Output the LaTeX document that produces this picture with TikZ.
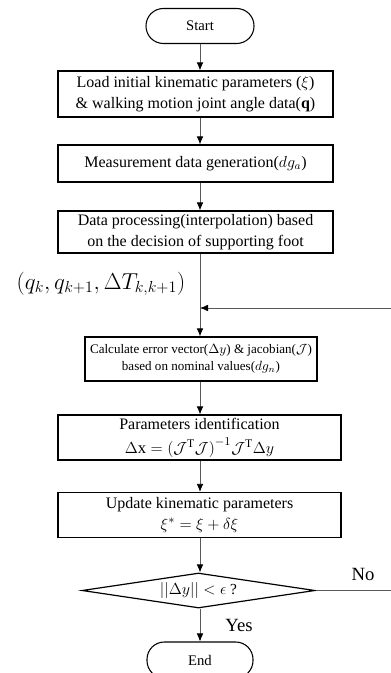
\documentclass[tikz,border=0pt]{standalone}
\usepackage{fontspec}
\setmainfont{Liberation Serif}
\usetikzlibrary{shapes.geometric,arrows.meta}
\begin{document}
\begin{tikzpicture}[x=0.75pt,y=-0.75pt,
  box/.style={draw=black,line width=0.9pt,rectangle,inner sep=0pt,align=center,
    font=\fontsize{12}{15.5}\selectfont},
  smallbox/.style={box,font=\fontsize{9.8}{13}\selectfont},
  term/.style={draw=black,line width=0.8pt,rectangle,rounded corners=13pt,inner sep=0pt,
    font=\fontsize{11}{13}\selectfont},
  decision/.style={draw=black,line width=0.9pt,diamond,aspect=6.66,inner sep=0pt,
    font=\fontsize{11.5}{13}\selectfont},
  conn/.style={draw=black!65,line width=0.6pt,-{Latex[length=6pt,width=5pt,color=black]}},
  biglabel/.style={font=\fontsize{14}{16}\selectfont,inner sep=0pt}]
\useasboundingbox (0,0) rectangle (390,673);

\node[term,minimum width=81pt,minimum height=26.25pt] (start) at (200,26) {Start};
\node[box,minimum width=206.25pt,minimum height=34.5pt] (b1) at (195.5,94)
  {Load initial kinematic parameters ($\xi$)\\ \& walking motion joint angle data($\mathbf{q}$)};
\node[box,minimum width=206.25pt,minimum height=27.75pt] (b2) at (195.5,163.5)
  {Measurement data generation($dg_a$)};
\node[box,minimum width=206.25pt,minimum height=31.5pt] (b3) at (195.5,232)
  {Data processing(interpolation) based\\ on the decision of supporting foot};
\node[biglabel,font=\fontsize{17}{20}\selectfont] (lab) at (101,284) {$(q_k, q_{k+1}, \Delta T_{k,k+1})$};
\coordinate (fb) at (200,308);
\node[smallbox,minimum width=174pt,minimum height=33pt] (b4) at (201,359)
  {Calculate error vector($\Delta y$) \& jacobian($\mathcal{J}$)\\ based on nominal values($dg_n$)};
\node[box,minimum width=212.25pt,minimum height=33.75pt,font=\fontsize{12}{15}\selectfont] (b5) at (199.5,437.5)
  {Parameters identification\\[3pt] \fontsize{12.5}{15}\selectfont$\Delta\mathrm{x} = \bigl(\mathcal{J}^{\mathrm{T}}\mathcal{J}\bigr)^{-1}\mathcal{J}^{\mathrm{T}}\Delta y$};
\node[box,minimum width=212.25pt,minimum height=33.75pt] (b6) at (199.5,515)
  {Update kinematic parameters\\ \fontsize{13}{15}\selectfont$\xi^{*} = \xi + \delta\xi$};
\node[decision,minimum width=174.75pt,minimum height=26.25pt] (dia) at (198.5,590.5)
  {$||\Delta y|| < \epsilon$ ?};
\node[term,minimum width=79.5pt,minimum height=27pt] (end) at (200,660) {End};

\node[biglabel] (no) at (363,574) {No};
\node[biglabel] (yes) at (239,625) {Yes};

\draw[conn] (start.south) -- (b1.north -| start);
\draw[conn] (b1.south -| start) -- (b2.north -| start);
\draw[conn] (b2.south -| start) -- (b3.north -| start);
\draw[conn] (b3.south -| start) -- (b4.north -| start);
\draw[conn] (b4.south -| start) -- (b5.north -| start);
\draw[conn] (b5.south -| start) -- (b6.north -| start);
\draw[conn] (b6.south -| start) -- (dia.north -| start);
\draw[conn] (dia.south -| start) -- (end.north -| start);
\draw[conn] (dia.east) -- ++(90,0) |- (fb);
\end{tikzpicture}
\end{document}
